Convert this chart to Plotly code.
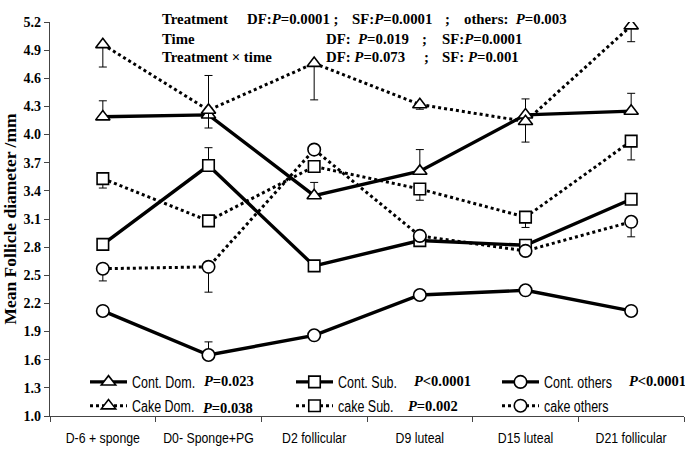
import plotly.graph_objects as go

categories = ["D-6 + sponge", "D0- Sponge+PG", "D2 follicular", "D9 luteal", "D15 luteal", "D21 follicular"]

cont_dom = [4.19, 4.21, 3.35, 3.61, 4.21, 4.25]
cont_dom_err = [0.17, 0.42, 0.14, 0.23, 0.17, 0.19]
cont_sub = [2.83, 3.67, 2.60, 2.87, 2.82, 3.31]
cont_sub_err = [0.04, 0.19, 0.04, 0.05, 0.04, 0.05]
cont_oth = [2.12, 1.65, 1.86, 2.29, 2.34, 2.12]
cont_oth_err = [0.03, 0.14, 0.03, 0.04, 0.05, 0.03]

cake_dom = [4.96, 4.26, 4.76, 4.32, 4.14, 5.16]
cake_dom_err = [0.24, 0.19, 0.39, 0.05, 0.22, 0.17]
cake_sub = [3.53, 3.08, 3.66, 3.42, 3.12, 3.93]
cake_sub_err = [0.10, 0.04, 0.05, 0.12, 0.11, 0.20]
cake_oth = [2.57, 2.59, 3.84, 2.92, 2.76, 3.07]
cake_oth_err = [0.13, 0.27, 0.04, 0.04, 0.04, 0.16]

legend_names = ["Cont. Dom.", "Cont. Sub.", "Cont. others", "Cake Dom.", "cake Sub.", "cake others"]
legend_pvals = ["<i>P</i>=0.023", "<i>P</i><0.0001", "<i>P</i><0.0001", "<i>P</i>=0.038", "<i>P</i>=0.002", ""]

stats_rows = [
    ["Treatment", "DF:<i>P</i>=0.0001 ;", "SF:<i>P</i>=0.0001", ";", "others:  <i>P</i>=0.003"],
    ["Time", "DF:  <i>P</i>=0.019", ";", "SF:<i>P</i>=0.0001"],
    ["Treatment × time", "DF: <i>P</i>=0.073", ";", "SF: <i>P</i>=0.001"],
]

W, H = 685, 454
L, R, T, B = 50, 1, 22, 38
PW, PH = W - L - R, H - T - B

def px(x):
    return (x - L) / PW

def py(y):
    return (H - B - y) / PH

SERIF = "Liberation Serif, Times New Roman, serif"
SANS = "Liberation Sans, Arial, sans-serif"

fig = go.Figure()

series = [
    (cont_dom, cont_dom_err, "triangle-up", "solid", True),
    (cont_sub, cont_sub_err, "square", "solid", True),
    (cont_oth, cont_oth_err, "circle", "solid", True),
    (cake_dom, cake_dom_err, "triangle-up", "dot", False),
    (cake_sub, cake_sub_err, "square", "dot", False),
    (cake_oth, cake_oth_err, "circle", "dot", False),
]

for i, (vals, err, sym, dash, up) in enumerate(series):
    if up:
        ey = dict(type="data", symmetric=False, array=err, arrayminus=[0] * len(err),
                  color="black", thickness=1, width=4)
    else:
        ey = dict(type="data", symmetric=False, array=[0] * len(err), arrayminus=err,
                  color="black", thickness=1, width=4)
    fig.add_trace(go.Scatter(
        x=categories, y=vals, name=legend_names[i], mode="lines+markers",
        line=dict(color="black", width=3.4 if dash == "solid" else 3, dash=dash),
        marker=dict(symbol=sym, size=12.5 if sym != "square" else 11.5, color="white",
                    line=dict(color="black", width=1.6)),
        error_y=ey, showlegend=True,
    ))

annotations = []
pval_pos = [(202, 381), (412, 381), (627, 381), (201, 408), (406, 406)]
for (x, y), txt in zip(pval_pos, legend_pvals):
    if not txt:
        continue
    annotations.append(dict(
        x=px(x), y=py(y), xref="paper", yref="paper", text=f"<b>{txt}</b>",
        showarrow=False, xanchor="left", yanchor="middle",
        font=dict(family=SERIF, size=14.5, color="black"),
    ))

stat_x = [
    [160, 245, 350, 443, 462],
    [160, 324, 420, 440],
    [160, 324, 422, 440],
]
stat_y = [19, 39, 57]
for row, xs, y in zip(stats_rows, stat_x, stat_y):
    for txt, x in zip(row, xs):
        annotations.append(dict(
            x=px(x), y=py(y), xref="paper", yref="paper", text=f"<b>{txt}</b>",
            showarrow=False, xanchor="left", yanchor="middle",
            font=dict(family=SERIF, size=14.8, color="black"),
        ))

fig.update_layout(
    width=W, height=H,
    margin=dict(l=L, r=R, t=T, b=B, autoexpand=False),
    paper_bgcolor="white", plot_bgcolor="white",
    showlegend=True,
    legend=dict(
        orientation="h", x=px(85), y=py(394), xanchor="left", yanchor="middle",
        bgcolor="rgba(0,0,0,0)", borderwidth=0, traceorder="normal",
        font=dict(family=SANS, size=16, color="black"),
        itemwidth=37, entrywidth=154, entrywidthmode="pixels",
    ),
    annotations=annotations,
)

fig.update_xaxes(
    type="category", range=[-0.5, 5.5],
    showline=True, linecolor="#444", linewidth=1.2,
    ticks="outside", tickson="boundaries", ticklen=5, tickcolor="#444",
    showgrid=False, zeroline=False, tickangle=0, ticklabelstandoff=8,
    tickfont=dict(family=SANS, size=15, color="black"),
)
fig.update_yaxes(
    range=[1.0, 5.2], tick0=1.0, dtick=0.3, tickformat=".1f",
    showline=True, linecolor="#444", linewidth=1.2,
    ticks="outside", ticklen=5, tickcolor="#444",
    showgrid=False, zeroline=False,
    tickfont=dict(family=SERIF, size=14, color="black", weight="bold"),
    title=dict(text="<b>Mean Follicle diameter /mm</b>", standoff=4,
               font=dict(family=SERIF, size=17.5, color="black")),
)

# Give the sans-serif labels an Arial Narrow look by compressing glyphs horizontally
post_js = """
var gd = document.getElementById('{plot_id}');
function squeeze(sel, f) {
  gd.querySelectorAll(sel).forEach(function (t) {
    if (t.getAttribute('data-sq') === '1') { return; }
    var len = t.getComputedTextLength();
    if (!len) { return; }
    t.setAttribute('textLength', (len * f).toFixed(1));
    t.setAttribute('lengthAdjust', 'spacingAndGlyphs');
    t.setAttribute('data-sq', '1');
  });
}
function squeezeAll() {
  squeeze('.xtick text', 0.82);
  squeeze('text.legendtext', 0.78);
}
squeezeAll();
gd.on('plotly_afterplot', squeezeAll);
[0, 30, 100, 250, 500].forEach(function (ms) { setTimeout(squeezeAll, ms); });
"""

fig.write_html("out.html", post_script=post_js)
